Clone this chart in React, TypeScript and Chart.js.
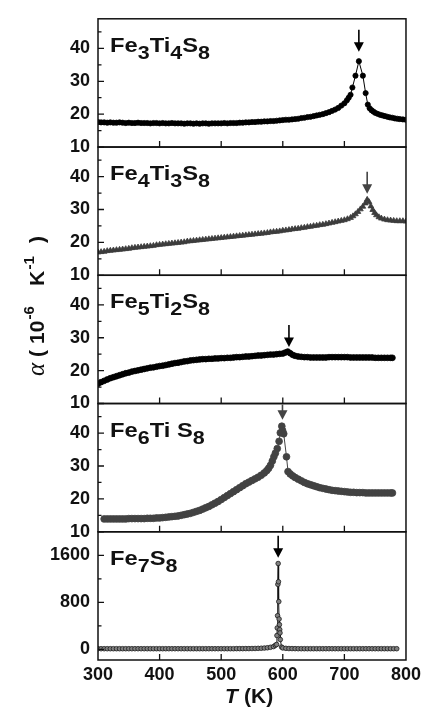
import React, { useEffect, useRef } from 'react';
import { Chart, registerables } from 'chart.js';

Chart.register(...registerables);

const FONT = '"Liberation Sans", Arial, Helvetica, sans-serif';

// ---- axis ticks ----
const xTickValues = [300, 400, 500, 600, 700, 800];
const xInnerTicks = [400, 500, 600, 700];
const alphaTicks = [10, 20, 30, 40];
const alphaMinor = [15, 25, 35, 45];
const fe7Ticks = [0, 800, 1600];
const fe7Minor = [400, 1200];

// ---- Fe3Ti4S8 ----
const fe3Ti4S8T = [
  300, 305, 310, 315, 320, 325, 330, 335, 340, 345,
  350, 355, 360, 365, 370, 375, 380, 385, 390, 395,
  400, 405, 410, 415, 420, 425, 430, 435, 440, 445,
  450, 455, 460, 465, 470, 475, 480, 485, 490, 495,
  500, 505, 510, 515, 520, 525, 530, 535, 540, 545,
  550, 555, 560, 565, 570, 575, 580, 585, 590, 595,
  600, 605, 610, 615, 620, 625, 630, 635, 640, 645,
  650, 655, 660, 665, 670, 675, 680, 685, 690, 695,
  700, 704, 707, 710, 713, 718, 723.5, 730, 734.5, 738,
  741, 744, 747, 750, 754, 758, 762, 766, 770, 774,
  778, 782, 786, 790, 795, 800,
];
const fe3Ti4S8A = [
  17.6, 17.5, 17.5, 17.4, 17.5, 17.4, 17.4, 17.5, 17.4, 17.3,
  17.4, 17.3, 17.3, 17.4, 17.3, 17.3, 17.3, 17.2, 17.3, 17.3,
  17.2, 17.3, 17.2, 17.2, 17.3, 17.2, 17.2, 17.2, 17.1, 17.2,
  17.2, 17.1, 17.2, 17.1, 17.2, 17.2, 17.1, 17.2, 17.2, 17.2,
  17.2, 17.3, 17.2, 17.3, 17.3, 17.3, 17.4, 17.4, 17.5, 17.5,
  17.6, 17.6, 17.7, 17.7, 17.8, 17.8, 17.9, 17.9, 18.0, 18.1,
  18.2, 18.3, 18.3, 18.4, 18.5, 18.6, 18.8, 18.9, 19.1, 19.2,
  19.4, 19.6, 19.8, 20.0, 20.3, 20.6, 21.0, 21.4, 21.9, 22.6,
  23.3, 24.2, 25.0, 25.9, 28.1, 31.7, 36.1, 31.7, 26.4, 22.9,
  21.8, 21.2, 20.8, 20.4, 20.1, 19.8, 19.6, 19.4, 19.2, 19.0,
  18.9, 18.7, 18.6, 18.5, 18.4, 18.3,
];

// ---- Fe4Ti3S8 ----
const fe4Ti3S8T = [
  300, 305, 310, 315, 320, 325, 330, 335, 340, 345,
  350, 355, 360, 365, 370, 375, 380, 385, 390, 395,
  400, 405, 410, 415, 420, 425, 430, 435, 440, 445,
  450, 455, 460, 465, 470, 475, 480, 485, 490, 495,
  500, 505, 510, 515, 520, 525, 530, 535, 540, 545,
  550, 555, 560, 565, 570, 575, 580, 585, 590, 595,
  600, 605, 610, 615, 620, 625, 630, 635, 640, 645,
  650, 655, 660, 665, 670, 675, 680, 685, 690, 695,
  700, 705, 710, 714, 718, 722, 726, 730, 734, 737,
  740, 743, 746, 749, 752, 756, 760, 765, 770, 775,
  780, 785, 790, 795, 800,
];
const fe4Ti3S8A = [
  17.0, 17.1, 17.2, 17.4, 17.5, 17.6, 17.7, 17.8, 17.9, 18.0,
  18.1, 18.3, 18.4, 18.5, 18.6, 18.7, 18.8, 18.9, 19.0, 19.2,
  19.3, 19.4, 19.5, 19.6, 19.7, 19.8, 19.9, 20.0, 20.1, 20.3,
  20.4, 20.5, 20.6, 20.7, 20.8, 20.9, 21.0, 21.1, 21.2, 21.3,
  21.4, 21.5, 21.6, 21.7, 21.8, 21.9, 22.0, 22.1, 22.2, 22.3,
  22.4, 22.5, 22.6, 22.7, 22.8, 22.9, 23.1, 23.2, 23.3, 23.4,
  23.6, 23.7, 23.8, 24.0, 24.1, 24.2, 24.4, 24.5, 24.7, 24.8,
  25.0, 25.1, 25.3, 25.4, 25.6, 25.8, 26.0, 26.2, 26.4, 26.6,
  26.8, 27.1, 27.5, 28.0, 28.6, 29.3, 30.1, 30.9, 31.9, 33.0,
  32.3, 31.0, 29.9, 29.0, 28.3, 27.7, 27.3, 27.0, 26.8, 26.7,
  26.6, 26.5, 26.5, 26.5, 26.4,
];

// ---- Fe5Ti2S8 ----
const fe5Ti2S8T = [
  300, 305, 310, 315, 320, 325, 330, 335, 340, 345,
  350, 355, 360, 365, 370, 375, 380, 385, 390, 395,
  400, 405, 410, 415, 420, 425, 430, 435, 440, 445,
  450, 455, 460, 465, 470, 475, 480, 485, 490, 495,
  500, 505, 510, 515, 520, 525, 530, 535, 540, 545,
  550, 555, 560, 565, 570, 575, 580, 585, 590, 595,
  600, 604, 608, 612, 616, 620,
  625, 630, 635, 640, 645, 650, 655, 660, 665, 670,
  675, 680, 685, 690, 695, 700, 705, 710, 715, 720,
  725, 730, 735, 740, 745, 750, 755, 760, 765, 770,
  775, 778,
];
const fe5Ti2S8A = [
  16.0, 16.5, 16.9, 17.3, 17.7, 18.0, 18.3, 18.6, 18.9, 19.2,
  19.4, 19.7, 19.9, 20.1, 20.3, 20.5, 20.7, 20.9, 21.0, 21.2,
  21.4, 21.5, 21.7, 21.9, 22.1, 22.3, 22.4, 22.6, 22.8, 22.9,
  23.1, 23.2, 23.3, 23.4, 23.5, 23.5, 23.6, 23.6, 23.7, 23.7,
  23.8, 23.8, 23.9, 23.9, 24.0, 24.1, 24.1, 24.2, 24.3, 24.3,
  24.4, 24.5, 24.6, 24.6, 24.7, 24.8, 24.9, 24.9, 25.0, 25.1,
  25.2, 25.5, 25.8, 25.3, 24.8, 24.5,
  24.3, 24.2, 24.1, 24.1, 24.0, 24.0, 24.0, 24.0, 24.0, 24.0,
  24.1, 24.1, 24.1, 24.1, 24.1, 24.1, 24.1, 24.0, 24.0, 24.0,
  24.0, 24.0, 24.0, 24.0, 24.0, 23.9, 23.9, 23.9, 23.9, 23.9,
  23.9, 23.9,
];

// ---- Fe6TiS8 ----
const fe6TiS8T = [
  310, 315, 320, 325, 330, 335, 340, 345, 350, 355,
  360, 365, 370, 375, 380, 385, 390, 395, 400, 405,
  410, 415, 420, 425, 430, 435, 440, 445, 450, 455,
  460, 465, 470, 475, 480, 485, 490, 495, 500, 505,
  510, 515, 520, 525, 530, 535, 540, 545, 550, 555,
  560, 565, 570,
  574, 577, 580, 583, 585.5, 588, 591, 594, 596, 598.4,
  599.6, 601.5, 606, 608.5, 612, 616, 620,
  625, 630, 635, 640, 645, 650, 655, 660, 665, 670,
  675, 680, 685, 690, 695, 700, 705, 710, 715, 720,
  725, 730, 735, 740, 745, 750, 755, 760, 765, 770,
  775, 778,
];
const fe6TiS8A = [
  13.9, 13.9, 13.9, 13.9, 13.9, 13.9, 13.9, 13.9, 14.0, 14.0,
  14.0, 14.0, 14.0, 14.0, 14.1, 14.1, 14.1, 14.2, 14.2, 14.3,
  14.4, 14.5, 14.6, 14.7, 14.8, 15.0, 15.2, 15.4, 15.6, 15.9,
  16.2, 16.5, 16.9, 17.3, 17.7, 18.2, 18.7, 19.2, 19.8, 20.4,
  21.0, 21.6, 22.2, 22.8, 23.4, 24.0, 24.6, 25.1, 25.6, 26.1,
  26.6, 27.2, 27.9,
  28.6, 29.3, 30.2, 31.5, 32.8, 33.9, 35.3, 37.5, 40.1, 42.1,
  40.8, 39.8, 32.8, 28.3, 27.6, 27.0, 26.5,
  26.0, 25.5, 25.0, 24.6, 24.3, 24.0, 23.7, 23.4, 23.2, 23.0,
  22.8, 22.6, 22.5, 22.4, 22.3, 22.2, 22.1, 22.0, 22.0, 21.9,
  21.9, 21.9, 21.8, 21.8, 21.8, 21.8, 21.8, 21.8, 21.8, 21.8,
  21.8, 21.8,
];

// ---- Fe7S8 ----
const fe7S8T = [
  300, 305, 310, 315, 320, 325, 330, 335, 340, 345,
  350, 355, 360, 365, 370, 375, 380, 385, 390, 395,
  400, 405, 410, 415, 420, 425, 430, 435, 440, 445,
  450, 455, 460, 465, 470, 475, 480, 485, 490, 495,
  500, 505, 510, 515, 520, 525, 530, 535, 540, 545,
  550, 555, 560, 565, 570, 575, 580, 585,
  588, 590, 590.5, 591, 591.5, 592, 592.5, 593, 593.5, 594,
  594.5, 595, 595.5, 596, 598,
  600, 605, 610, 615, 620,
  625, 630, 635, 640, 645, 650, 655, 660, 665, 670,
  675, 680, 685, 690, 695, 700, 705, 710, 715, 720,
  725, 730, 735, 740, 745, 750, 755, 760, 765, 770,
  775, 780, 785,
];
const fe7S8A = [
  12, 12, 12, 12, 12, 12, 12, 12, 12, 12,
  12, 12, 12, 12, 12, 12, 12, 12, 12, 12,
  12, 12, 12, 12, 12, 12, 12, 12, 12, 12,
  12, 12, 12, 12, 12, 12, 12, 12, 12, 12,
  12, 12, 12, 12, 12, 13, 13, 13, 14, 14,
  15, 16, 18, 20, 23, 28, 36, 48,
  70, 84, 236, 365, 573, 1106, 1460, 1150, 813, 517,
  421, 337, 281, 168, 40,
  25, 18, 15, 14, 13,
  12, 12, 12, 12, 12, 12, 12, 12, 12, 12,
  12, 12, 12, 12, 12, 12, 12, 12, 12, 12,
  12, 12, 12, 12, 12, 12, 12, 12, 12, 12,
  12, 12, 12,
];

// ---- transition arrows (temperature, tip value) ----
const arrowT = [723.5, 737, 610, 599.5, 592.5];
const arrowTip = [39.0, 34.8, 27.2, 44.1, 1560];

type Seg = [string, boolean];
const panels = [
  { id: 'p1', label: [['Fe', false], ['3', true], ['Ti', false], ['4', true], ['S', false], ['8', true]] as Seg[],
    T: fe3Ti4S8T, A: fe3Ti4S8A, min: 10, max: 49, ticks: alphaTicks, minor: alphaMinor,
    line: '#000', fill: '#000', edge: '#000', style: 'circle', r: 2.6, arrow: '#000' },
  { id: 'p2', label: [['Fe', false], ['4', true], ['Ti', false], ['3', true], ['S', false], ['8', true]] as Seg[],
    T: fe4Ti3S8T, A: fe4Ti3S8A, min: 10, max: 49, ticks: alphaTicks, minor: alphaMinor,
    line: '#3c3c3c', fill: '#3c3c3c', edge: '#3c3c3c', style: 'triangle', r: 3.3, arrow: '#444' },
  { id: 'p3', label: [['Fe', false], ['5', true], ['Ti', false], ['2', true], ['S', false], ['8', true]] as Seg[],
    T: fe5Ti2S8T, A: fe5Ti2S8A, min: 10, max: 49, ticks: alphaTicks, minor: alphaMinor,
    line: '#000', fill: '#000', edge: '#000', style: 'circle', r: 2.9, arrow: '#000' },
  { id: 'p4', label: [['Fe', false], ['6', true], ['Ti ', false], ['S', false], ['8', true]] as Seg[],
    T: fe6TiS8T, A: fe6TiS8A, min: 10, max: 49, ticks: alphaTicks, minor: alphaMinor,
    line: '#444', fill: '#424242', edge: '#424242', style: 'circle', r: 3.4, arrow: '#444' },
  { id: 'p5', label: [['Fe', false], ['7', true], ['S', false], ['8', true]] as Seg[],
    T: fe7S8T, A: fe7S8A, min: -180, max: 2000, ticks: fe7Ticks, minor: fe7Minor,
    line: '#111', fill: '#808080', edge: '#1a1a1a', style: 'circle', r: 2.3, arrow: '#000' },
];

const decor = {
  id: 'decor',
  afterDatasetsDraw(chart: any) {
    const ctx: CanvasRenderingContext2D = chart.ctx;
    const a = chart.chartArea;
    const xs = chart.scales.x;
    ctx.save();
    panels.forEach((p, i) => {
      const ys = chart.scales[p.id];
      ctx.strokeStyle = '#111';
      ctx.lineWidth = 1.5;
      ctx.strokeRect(a.left, ys.top, a.right - a.left, ys.bottom - ys.top);
      ctx.lineWidth = 1.3;
      ctx.beginPath();
      p.ticks.forEach((v) => {
        const y = ys.getPixelForValue(v);
        ctx.moveTo(a.left, y); ctx.lineTo(a.left + 6, y);
      });
      p.minor.forEach((v) => {
        const y = ys.getPixelForValue(v);
        ctx.moveTo(a.left, y); ctx.lineTo(a.left + 3.5, y);
      });
      xInnerTicks.forEach((v) => {
        const x = xs.getPixelForValue(v);
        ctx.moveTo(x, ys.bottom); ctx.lineTo(x, ys.bottom - 6);
      });
      ctx.stroke();

      // arrow
      const ax = xs.getPixelForValue(arrowT[i]);
      const tip = ys.getPixelForValue(arrowTip[i]);
      const start = Math.max(ys.top + 1, tip - 22);
      ctx.strokeStyle = p.arrow; ctx.fillStyle = p.arrow; ctx.lineWidth = 1.6;
      ctx.beginPath(); ctx.moveTo(ax, start); ctx.lineTo(ax, tip - 8); ctx.stroke();
      ctx.beginPath(); ctx.moveTo(ax - 5, tip - 9.5); ctx.lineTo(ax + 5, tip - 9.5); ctx.lineTo(ax, tip); ctx.closePath(); ctx.fill();

      // panel label
      ctx.save();
      ctx.translate(a.left + 12, ys.top + 33);
      ctx.scale(1.13, 1);
      ctx.fillStyle = '#111';
      ctx.textBaseline = 'alphabetic';
      ctx.textAlign = 'left';
      let cx = 0;
      p.label.forEach(([t, sub]) => {
        ctx.font = sub ? `bold 19px ${FONT}` : `bold 21px ${FONT}`;
        ctx.fillText(t, cx, sub ? 7 : 0);
        cx += ctx.measureText(t).width;
      });
      ctx.restore();
    });

    // y-axis title
    ctx.save();
    ctx.translate(43.5, 377);
    ctx.rotate(-Math.PI / 2);
    ctx.fillStyle = '#111';
    ctx.textBaseline = 'alphabetic';
    ctx.textAlign = 'left';
    const big = `bold 21px ${FONT}`;
    const sup = `bold 15px ${FONT}`;
    const pieces: [string, number, string, number][] = [
      ['\u03b1', 1, 'italic 25px "Liberation Serif", "DejaVu Serif", serif', 0],
      ['(', 20, big, 0],
      ['10', 33, big, 0],
      ['-6', 57.5, sup, 10],
      ['K', 91, big, 0],
      ['-1', 107.5, sup, 10],
      [')', 134, big, 0],
    ];
    pieces.forEach(([t, d, f, rise]) => { ctx.font = f; ctx.fillText(t, d, -rise); });
    ctx.restore();

    // x-axis title
    ctx.fillStyle = '#111';
    ctx.textBaseline = 'alphabetic';
    ctx.textAlign = 'left';
    ctx.font = `italic bold 21px ${FONT}`;
    ctx.fillText('T', 225, 703);
    ctx.font = `bold 21px ${FONT}`;
    ctx.fillText('(K)', 244, 703);
    ctx.restore();
  },
};

export default function App() {
  const ref = useRef<HTMLCanvasElement>(null);
  useEffect(() => {
    document.body.style.margin = '0';
    const scales: any = {
      x: {
        type: 'linear', position: 'bottom', min: 300, max: 800,
        afterBuildTicks: (s: any) => { s.ticks = xTickValues.map((v) => ({ value: v })); },
        afterFit: (s: any) => { s.height = 48; },
        ticks: { font: { family: FONT, size: 18, weight: 'bold' }, color: '#111', padding: 4, autoSkip: false, maxRotation: 0, callback: (v: any) => String(v) },
        grid: { display: false, drawTicks: false },
        border: { display: false },
      },
    };
    for (let i = panels.length - 1; i >= 0; i--) {
      const p = panels[i];
      scales[p.id] = {
        type: 'linear', position: 'left', stack: 'alpha', stackWeight: 1,
        min: p.min, max: p.max,
        afterBuildTicks: (s: any) => { s.ticks = p.ticks.map((v) => ({ value: v })); },
        afterFit: (s: any) => { s.width = 98; },
        ticks: { font: { family: FONT, size: 18, weight: 'bold' }, color: '#111', padding: 8, autoSkip: false, callback: (v: any) => String(v) },
        grid: { display: false, drawTicks: false },
        border: { display: false },
      };
    }
    const datasets = panels.map((p) => ({
      label: p.id,
      data: p.T.map((t, k) => ({ x: t, y: p.A[k] })),
      xAxisID: 'x',
      yAxisID: p.id,
      showLine: true,
      borderColor: p.line,
      borderWidth: 1,
      pointStyle: p.style,
      pointRadius: p.r,
      pointBackgroundColor: p.fill,
      pointBorderColor: p.edge,
      pointBorderWidth: 0.8,
      fill: false,
      tension: 0,
    }));
    const chart = new Chart(ref.current!, {
      type: 'line',
      data: { datasets },
      options: {
        responsive: false,
        animation: false,
        devicePixelRatio: 1,
        events: [],
        layout: { autoPadding: false, padding: { left: 0, right: 17, top: 14, bottom: 0 } },
        plugins: { legend: { display: false }, tooltip: { enabled: false }, title: { display: false } },
        scales,
      } as any,
      plugins: [decor],
    });
    return () => chart.destroy();
  }, []);
  return (
    <div style={{ position: 'absolute', left: 0, top: 0, width: 425, height: 708 }}>
      <canvas ref={ref} width={425} height={708} style={{ display: 'block', width: 425, height: 708 }} />
    </div>
  );
}
